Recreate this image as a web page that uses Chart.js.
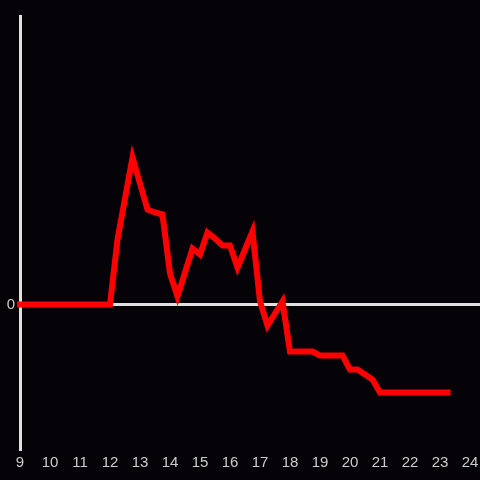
<!DOCTYPE html>
<html>
<head>
<meta charset="utf-8">
<script src="https://cdn.jsdelivr.net/npm/chart.js@4"></script>
<style>
  html, body { margin: 0; padding: 0; background: #050307; }
  #wrap { width: 480px; height: 480px; }
</style>
</head>
<body>
<div id="wrap"><canvas id="chart"></canvas></div>
<script>
// time of day in hours, quarter-hour steps
const hours = [
  9, 9.25, 9.5, 9.75, 10, 10.25, 10.5, 10.75, 11, 11.25, 11.5, 11.75,
  12, 12.25, 12.5, 12.75, 13, 13.25, 13.5, 13.75, 14, 14.25, 14.5, 14.75,
  15, 15.25, 15.5, 15.75, 16, 16.25, 16.5, 16.75, 17, 17.25, 17.5, 17.75,
  18, 18.25, 18.5, 18.75, 19, 19.25, 19.5, 19.75, 20, 20.25, 20.5, 20.75,
  21, 21.25, 21.5, 21.75, 22, 22.25, 22.5, 22.75, 23, 23.25
];
const values = [
  0, 0, 0, 0, 0, 0, 0, 0, 0, 0, 0, 0,
  0, 6.5, 10.6, 14.7, 12.1, 9.5, 9.2, 9.0, 3.1, 0.8, 3.2, 5.6,
  5.0, 7.2, 6.6, 5.9, 5.9, 3.7, 5.5, 7.3, 0.3, -2.1, -0.9, 0.3,
  -4.7, -4.7, -4.7, -4.7, -5.1, -5.1, -5.1, -5.1, -6.5, -6.5, -7.0, -7.5,
  -8.8, -8.8, -8.8, -8.8, -8.8, -8.8, -8.8, -8.8, -8.8, -8.8
];
const xTicks = [9, 10, 11, 12, 13, 14, 15, 16, 17, 18, 19, 20, 21, 22, 23, 24];
const yTicks = [0];

const axisColor = "#e0e0e0";
const labelColor = "#cccccc";
const tickFont = { family: "'Liberation Sans', Arial, sans-serif", size: 15 };

const ctx = document.getElementById("chart").getContext("2d");
new Chart(ctx, {
  type: "line",
  data: {
    datasets: [{
      data: hours.map((h, i) => ({ x: h, y: values[i] })),
      borderColor: "#ff0000",
      borderWidth: 6,
      borderCapStyle: "square",
      borderJoinStyle: "miter",
      pointRadius: 0,
      tension: 0,
      clip: false
    }]
  },
  options: {
    responsive: true,
    maintainAspectRatio: false,
    animation: false,
    layout: { padding: { top: 16, right: 0, left: 0, bottom: 0 } },
    plugins: {
      legend: { display: false },
      tooltip: { enabled: false }
    },
    scales: {
      x: {
        type: "linear",
        min: 9,
        max: 24.333,
        grid: { display: false, drawTicks: false },
        border: { display: false },
        ticks: { color: labelColor, font: tickFont, padding: 5, maxRotation: 0 },
        afterBuildTicks: (axis) => { axis.ticks = xTicks.map(v => ({ value: v })); },
        afterFit: (axis) => {
          axis.height = 31;
          axis.paddingLeft = 0;
          axis.paddingRight = 0;
        }
      },
      y: {
        min: -14.45,
        max: 28.85,
        grid: {
          color: (c) => (c.tick && c.tick.value === 0 ? axisColor : "rgba(0,0,0,0)"),
          lineWidth: 3,
          drawTicks: false
        },
        border: { color: axisColor, width: 3 },
        ticks: { color: labelColor, font: tickFont, padding: 5 },
        afterBuildTicks: (axis) => { axis.ticks = yTicks.map(v => ({ value: v })); },
        afterFit: (axis) => {
          axis.width = 20;
          axis.paddingTop = 0;
          axis.paddingBottom = 0;
        }
      }
    }
  }
});
</script>
</body>
</html>
